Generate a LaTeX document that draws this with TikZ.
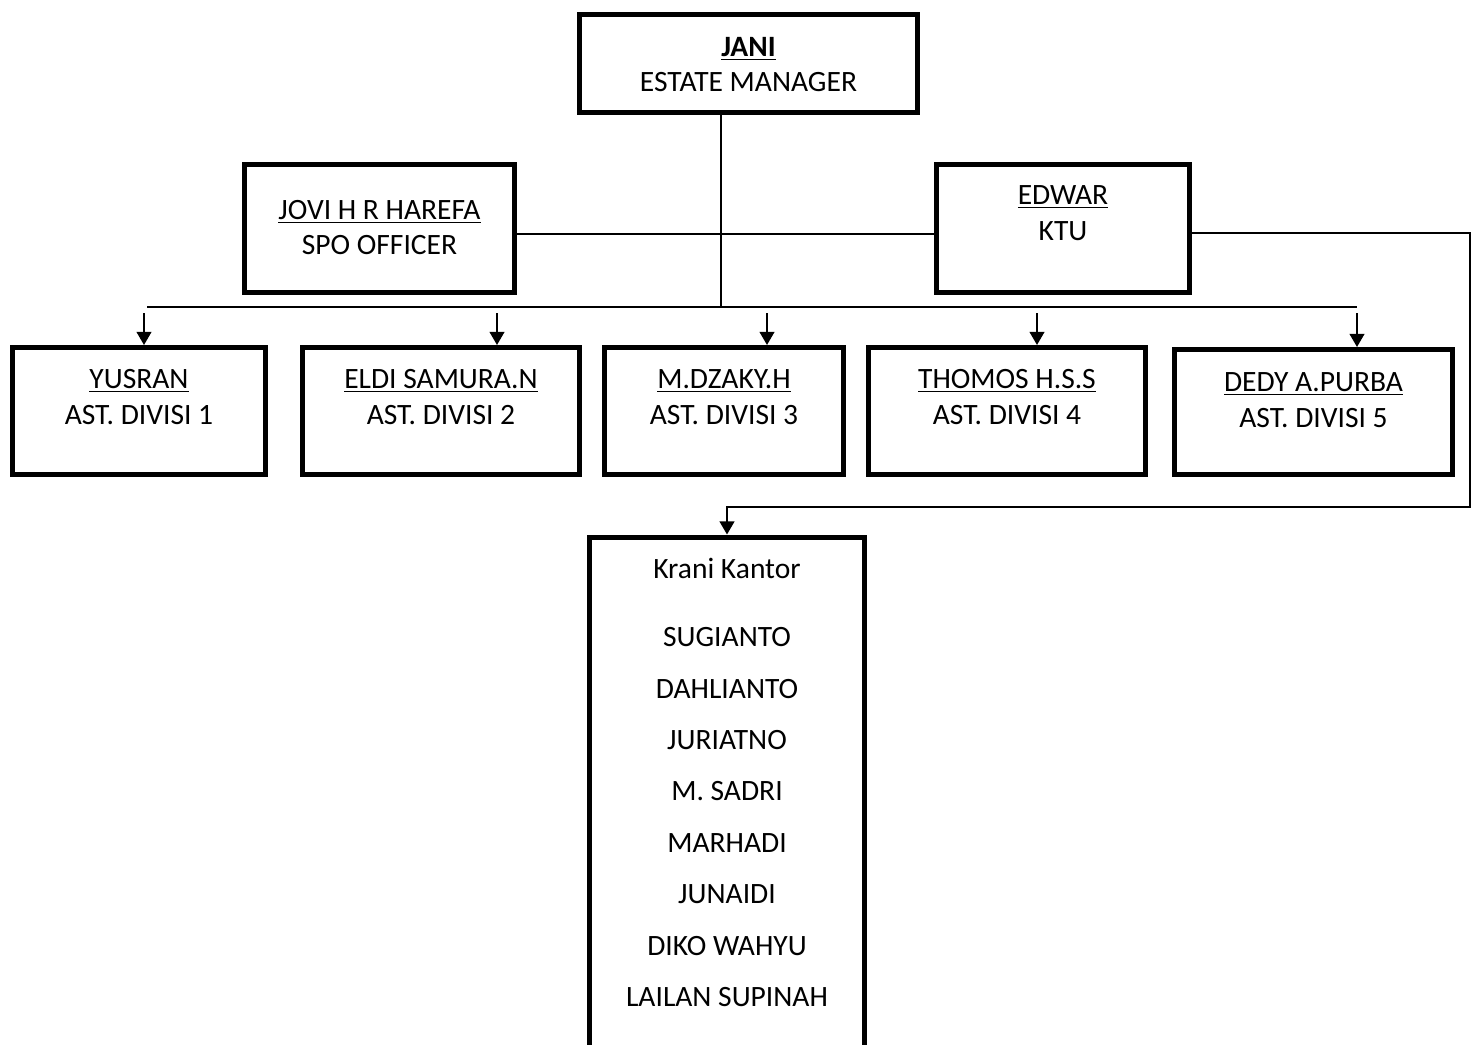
\documentclass[tikz,border=0pt]{standalone}
\usepackage{fontspec}
\setmainfont{Carlito}
\usetikzlibrary{arrows.meta}

\begin{document}
\begin{tikzpicture}[x=0.02cm,y=-0.02cm,>={Triangle[length=7.5pt,width=8.5pt]}]
	\tikzstyle{box} = [draw, line width=2.9pt, inner sep=0pt, align=center, font=\fontsize{16.8}{20}\selectfont]
	\tikzstyle{head} = [box, minimum width=6.76cm, minimum height=1.96cm, text height=1.3cm, text depth=0.16cm]
	\tikzstyle{staff} = [box, minimum height=2.56cm, text height=1.2cm, text depth=0.74cm]
	\tikzstyle{asst} = [box, minimum height=2.54cm, text height=1.2cm, text depth=0.68cm]
	\tikzstyle{clerks} = [box, minimum width=5.5cm, anchor=north, text height=9.39cm, text depth=1.4cm, font=\fontsize{16.8}{29.25}\selectfont]
	\tikzstyle{link} = [line width=0.85pt]

	\useasboundingbox (0,0) rectangle (1478,1045);

	\node[head] (Jani) at (748.5,63.5) {\textbf{\underline{JANI}}\\ESTATE MANAGER};
	\node[staff, minimum width=5.4cm, text height=1.3cm, text depth=0.24cm] (Jovi) at (379.5,228.5) {\underline{JOVI H R HAREFA}\\SPO OFFICER};
	\node[staff, minimum width=5.06cm, text height=1.2cm, text depth=0.74cm] (Edwar) at (1063,228.5) {\underline{EDWAR}\\KTU};

	\node[asst, minimum width=5.06cm] (DivOne) at (139,411) {\underline{YUSRAN}\\AST. DIVISI 1};
	\node[asst, minimum width=5.54cm] (DivTwo) at (441,411) {\underline{ELDI SAMURA.N}\\AST. DIVISI 2};
	\node[asst, minimum width=4.78cm] (DivThree) at (724,411) {\underline{M.DZAKY.H}\\AST. DIVISI 3};
	\node[asst, minimum width=5.54cm] (DivFour) at (1007,411) {\underline{THOMOS H.S.S}\\AST. DIVISI 4};
	\node[asst, minimum width=5.56cm, minimum height=2.5cm, text depth=0.6cm] (DivFive) at (1313.5,412) {\underline{DEDY A.PURBA}\\AST. DIVISI 5};

	\node[clerks] (Krani) at (727,534.5) {Krani Kantor\\[9.4pt]
		SUGIANTO\\ DAHLIANTO\\ JURIATNO\\ M. SADRI\\ MARHADI\\ JUNAIDI\\ DIKO WAHYU\\ LAILAN SUPINAH};

	\coordinate (BusL) at (147,307);
	\coordinate (BusR) at (1357,307);
	\coordinate (JaniFoot) at (721,307);
	\coordinate (TipOne) at (144,313);
	\coordinate (TipTwo) at (497,313);
	\coordinate (TipThree) at (767,313);
	\coordinate (TipFour) at (1037,313);
	\coordinate (TipFive) at (1357,313);
	\coordinate (StaffLine) at (700,234);
	\coordinate (RailTop) at (1470,233);
	\coordinate (RailFoot) at (1470,507);

	\draw[link] (Jani.south -| JaniFoot) -- (JaniFoot);
	\draw[link] (BusL) -- (BusR);
	\draw[link] (Jovi.east |- StaffLine) -- (Edwar.west |- StaffLine);
	\draw[link, ->] (TipOne) -- (TipOne |- DivOne.north);
	\draw[link, ->] (TipTwo) -- (TipTwo |- DivTwo.north);
	\draw[link, ->] (TipThree) -- (TipThree |- DivThree.north);
	\draw[link, ->] (TipFour) -- (TipFour |- DivFour.north);
	\draw[link, ->] (TipFive) -- (TipFive |- DivFive.north);
	\draw[link, ->] (Edwar.east |- RailTop) -- (RailTop) -- (RailFoot) -| (Krani.north);
\end{tikzpicture}
\end{document}
